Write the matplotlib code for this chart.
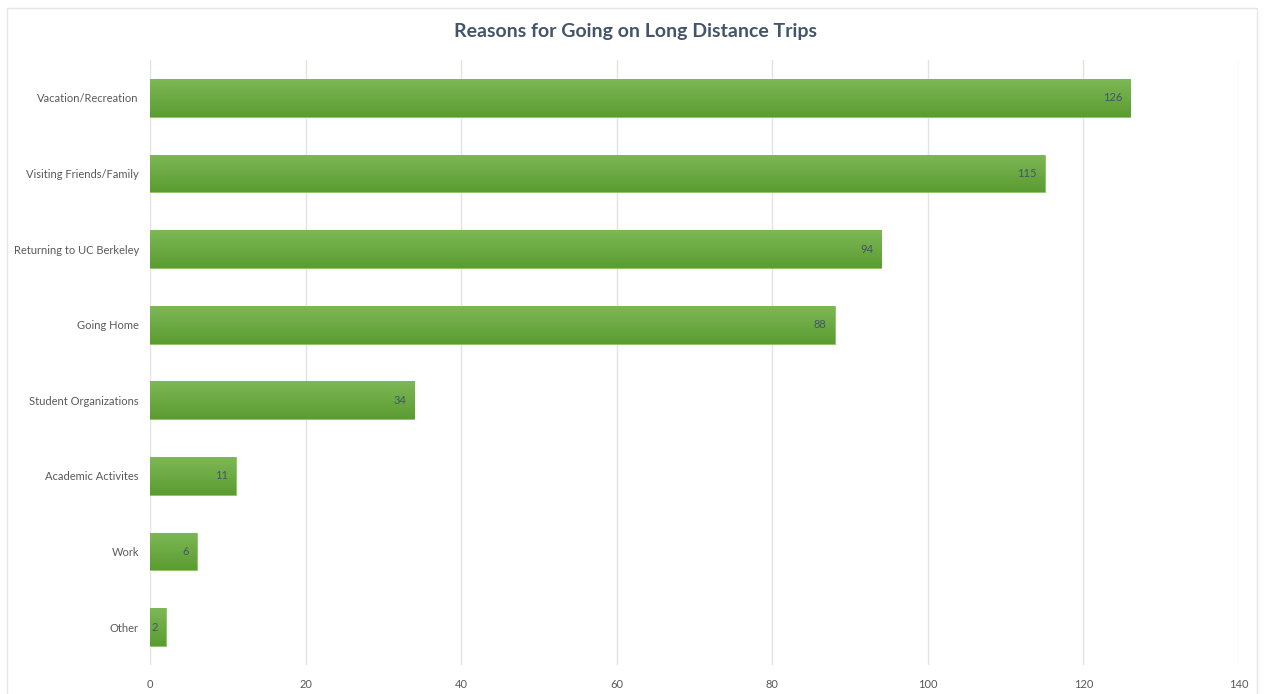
import matplotlib
matplotlib.use("Agg")
import matplotlib.pyplot as plt
import numpy as np
from matplotlib.patches import Rectangle
from matplotlib.colors import LinearSegmentedColormap

categories = ["Vacation/Recreation", "Visiting Friends/Family", "Returning to UC Berkeley",
              "Going Home", "Student Organizations", "Academic Activites", "Work", "Other"]
values = [126, 115, 94, 88, 34, 11, 6, 2]
xticks = [0, 20, 40, 60, 80, 100, 120, 140]
title = "Reasons for Going on Long Distance Trips"

plt.rcParams['font.family'] = ['Lato', 'DejaVu Sans']

fig = plt.figure(figsize=(12.64, 6.94), dpi=100)
fig.patches.append(Rectangle((7/1264, -2/694), 1250/1264, 688/694, transform=fig.transFigure,
                             fill=False, edgecolor="#e6e6e6", linewidth=1.0))
ax = fig.add_axes([150/1264, 1 - 665/694, (1239-150)/1264, (665-60)/694])

ypos = np.arange(len(categories))
bars = ax.barh(ypos, values, height=0.5, color="#6aab3e", edgecolor="#8cc463", linewidth=0.6, zorder=2)

cmap = LinearSegmentedColormap.from_list("g", ["#7db856", "#5b9c30"])
grad = np.linspace(0, 1, 64).reshape(-1, 1)
for b in bars:
    x0, y0 = b.get_x(), b.get_y()
    w, h = b.get_width(), b.get_height()
    im = ax.imshow(grad, cmap=cmap, aspect="auto", extent=(x0, x0 + w, y0 + h, y0),
                   origin="upper", zorder=2.5)
    im.set_clip_path(b)

for v, y in zip(values, ypos):
    ax.text(v - 1.0, y, str(v), ha="right", va="center", fontsize=8, color="#44546a", zorder=3)

ax.set_xlim(0, 140)
ax.set_ylim(len(categories) - 0.5, -0.5)
ax.set_xticks(xticks)
ax.set_xticklabels([str(t) for t in xticks])
ax.set_yticks(ypos)
ax.set_yticklabels(categories)
ax.tick_params(axis="both", length=0, labelsize=8, labelcolor="#595959")
ax.tick_params(axis="y", pad=8)
ax.tick_params(axis="x", pad=10)
ax.grid(axis="x", color="#e3e3e3", linewidth=1.0, zorder=0)
ax.set_axisbelow(True)
for s in ax.spines.values():
    s.set_visible(False)

fig.text(635/1264, 1 - 32/694, title, ha="center", va="center", fontsize=14,
         fontweight="bold", color="#44546a")

fig.savefig("out.png", dpi=100)
